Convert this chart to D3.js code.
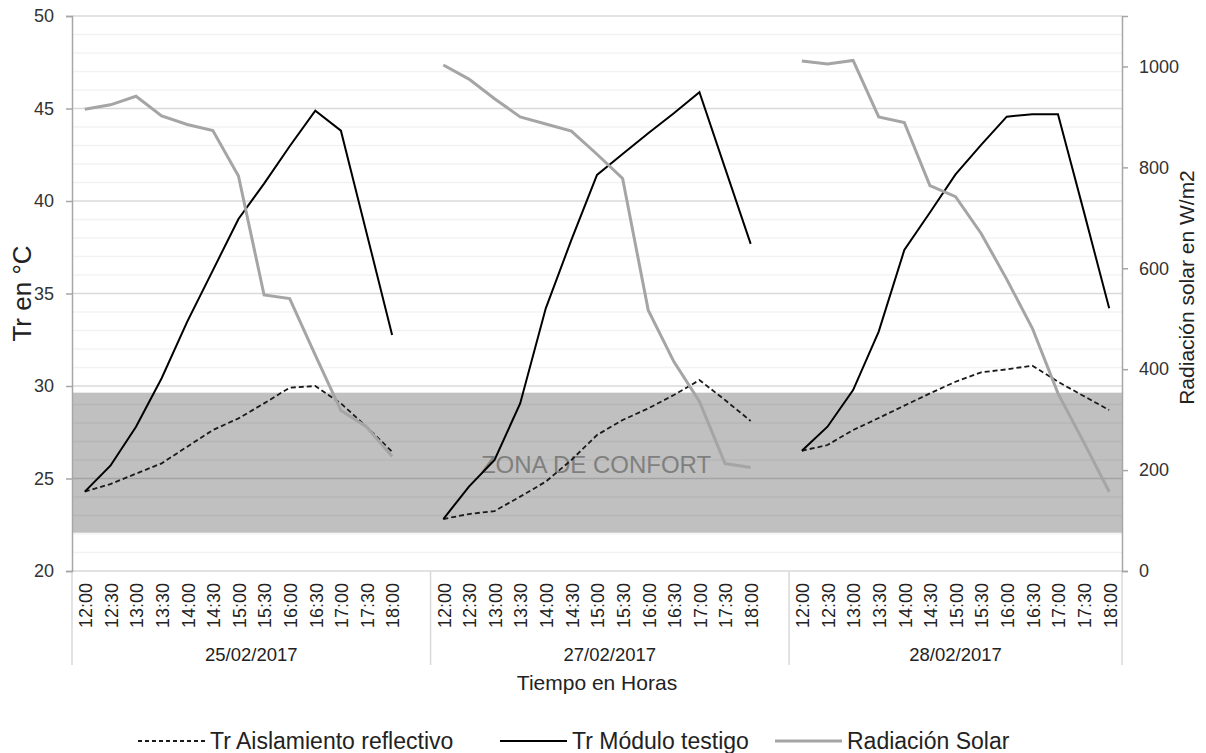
<!DOCTYPE html>
<html>
<head>
<meta charset="utf-8">
<script src="https://cdn.jsdelivr.net/npm/d3@7"></script>
<style>
  html, body { margin: 0; padding: 0; background: #ffffff; }
  svg { display: block; font-family: "Liberation Sans", Arial, sans-serif; }
</style>
</head>
<body>
<svg id="chart" width="1206" height="753"></svg>
<script>
// ---------------- DATA ----------------
const dates = ["25/02/2017", "27/02/2017", "28/02/2017"];
const times = ["12:00", "12:30", "13:00", "13:30", "14:00", "14:30", "15:00", "15:30", "16:00", "16:30", "17:00", "17:30", "18:00"];

const aislamiento25 = [24.29, 24.70, 25.26, 25.82, 26.72, 27.62, 28.25, 29.06, 29.91, 30.00, 29.06, 27.80, 26.45];
const aislamiento27 = [22.81, 23.08, 23.24, 24.02, 24.83, 26.00, 27.35, 28.16, 28.79, 29.51, 30.32, 29.24, 28.11];
const aislamiento28 = [26.50, 26.81, 27.62, 28.27, 28.94, 29.60, 30.23, 30.74, 30.90, 31.10, 30.23, 29.46, 28.70];

const testigo25 = [24.29, 25.69, 27.80, 30.42, 33.48, 36.25, 39.03, 40.94, 42.96, 44.88, 43.80, 38.29, 32.76];
const testigo27 = [22.81, 24.56, 26.00, 29.06, 34.20, 37.90, 41.41, 42.54, 43.66, 44.74, 45.88, 41.78, 37.68];
const testigo28 = [26.50, 27.80, 29.78, 32.94, 37.35, 39.38, 41.44, 43.03, 44.56, 44.69, 44.69, 39.48, 34.20];

const radiacion25 = [915, 924, 941, 902, 885, 873, 783, 547, 540, 428, 318, 286, 227];
const radiacion27 = [1003, 975, 936, 900, 886, 872, 826, 778, 517, 415, 336, 213, 205];
const radiacion28 = [1011, 1005, 1012, 900, 889, 764, 742, 669, 578, 481, 352, 256, 157];

const leftTicks = [20, 25, 30, 35, 40, 45, 50];
const rightTicks = [0, 200, 400, 600, 800, 1000];
const confortRange = [22.07, 29.64];

const seriesNames = ["Tr Aislamiento reflectivo", "Tr Módulo testigo", "Radiación Solar"];
const confortLabel = "ZONA DE CONFORT";
const yTitleLeft = "Tr en °C";
const yTitleRight = "Radiación solar en W/m2";
const xTitle = "Tiempo en Horas";

// ---------------- BUILD ----------------
const svg = d3.select("#chart");
const W = 1206, H = 753;
const plot = { left: 72, right: 1122, top: 16, bottom: 571 };

const keys = [];
const groups = [];
dates.forEach((d, g) => {
  const gk = times.map(t => d + " " + t);
  keys.push(...gk);
  const grpKeys = gk.slice();
  if (g < dates.length - 1) { keys.push("gap" + g); grpKeys.push("gap" + g); }
  groups.push({ date: d, keys: grpKeys });
});

const x = d3.scaleBand().domain(keys).range([plot.left, plot.right]).paddingInner(0).paddingOuter(0);
const bw = x.bandwidth();
const cx = k => x(k) + bw / 2;
const yL = d3.scaleLinear().domain([20, 50]).range([plot.bottom, plot.top]);
const yR = d3.scaleLinear().domain([0, 1100]).range([plot.bottom, plot.top]);

function buildSeries(arrs) {
  const out = [];
  keys.forEach(k => {
    if (k.startsWith("gap")) { out.push({ k, v: null }); return; }
    const [d, t] = k.split(" ");
    const g = dates.indexOf(d), i = times.indexOf(t);
    out.push({ k, v: arrs[g][i] });
  });
  return out;
}
const sAisl = buildSeries([aislamiento25, aislamiento27, aislamiento28]);
const sTest = buildSeries([testigo25, testigo27, testigo28]);
const sRad = buildSeries([radiacion25, radiacion27, radiacion28]);

svg.append("rect").attr("width", W).attr("height", H).attr("fill", "#ffffff");

// comfort zone
svg.append("rect")
  .attr("x", plot.left).attr("width", plot.right - plot.left)
  .attr("y", yL(confortRange[1])).attr("height", yL(confortRange[0]) - yL(confortRange[1]))
  .attr("fill", "#c0c0c0");

// gridlines
const minor = d3.range(21, 50, 1).filter(v => v % 5 !== 0);
svg.append("g").selectAll("line").data(minor).join("line")
  .attr("x1", plot.left).attr("x2", plot.right)
  .attr("y1", d => yL(d)).attr("y2", d => yL(d))
  .attr("stroke", "#000").attr("stroke-opacity", 0.05).attr("stroke-width", 1.5);
svg.append("g").selectAll("line").data(leftTicks.filter(v => v > 20)).join("line")
  .attr("x1", plot.left).attr("x2", plot.right)
  .attr("y1", d => yL(d)).attr("y2", d => yL(d))
  .attr("stroke", "#000").attr("stroke-opacity", 0.15).attr("stroke-width", 1.5);

// comfort label
svg.append("text")
  .attr("x", (plot.left + plot.right) / 2 - 1).attr("y", yL((confortRange[0] + confortRange[1]) / 2) + 10)
  .attr("text-anchor", "middle").attr("font-size", 24).attr("fill", "#7f7f7f")
  .text(confortLabel);

// category axis line + dividers
svg.append("line").attr("x1", plot.left).attr("x2", plot.right)
  .attr("y1", plot.bottom).attr("y2", plot.bottom)
  .attr("stroke", "#d9d9d9").attr("stroke-width", 1.5);
const dividerX = [plot.left];
groups.forEach(gr => { const last = gr.keys[gr.keys.length - 1]; dividerX.push(x(last) + bw); });
svg.append("g").selectAll("line").data(dividerX).join("line")
  .attr("x1", d => d).attr("x2", d => d)
  .attr("y1", plot.bottom).attr("y2", 665)
  .attr("stroke", "#d9d9d9").attr("stroke-width", 1.5);

// left axis
const gl = svg.append("g").attr("transform", `translate(${plot.left},0)`)
  .call(d3.axisLeft(yL).tickValues(leftTicks).tickSize(6).tickPadding(12).tickFormat(d3.format("d")));
gl.select(".domain").attr("stroke", "#a6a6a6").attr("stroke-width", 1.5);
gl.selectAll(".tick line").attr("stroke", "#a6a6a6").attr("stroke-width", 1.5);
gl.selectAll(".tick text").attr("font-size", 18).attr("fill", "#333").attr("font-family", "Liberation Sans, Arial, sans-serif");

// right axis
const gr = svg.append("g").attr("transform", `translate(${plot.right},0)`)
  .call(d3.axisRight(yR).tickValues(rightTicks).tickSize(6).tickPadding(11).tickFormat(d3.format("d")));
gr.select(".domain").attr("stroke", "#a6a6a6").attr("stroke-width", 1.5);
gr.selectAll(".tick line").attr("stroke", "#a6a6a6").attr("stroke-width", 1.5);
gr.selectAll(".tick text").attr("font-size", 18).attr("fill", "#333").attr("font-family", "Liberation Sans, Arial, sans-serif");

// time labels
svg.append("g").selectAll("text").data(keys.filter(k => !k.startsWith("gap"))).join("text")
  .attr("transform", k => `translate(${cx(k) + 1},583) rotate(-90)`)
  .attr("text-anchor", "end").attr("dy", "0.35em")
  .attr("font-size", 18).attr("fill", "#222")
  .text(k => k.split(" ")[1]);

// date labels
svg.append("g").selectAll("text").data(groups).join("text")
  .attr("x", (gd, i) => (dividerX[i] + dividerX[i + 1]) / 2)
  .attr("y", 661).attr("text-anchor", "middle")
  .attr("font-size", 18.5).attr("fill", "#222")
  .text(gd => gd.date);

// axis titles
svg.append("text").attr("x", (plot.left + plot.right) / 2).attr("y", 690)
  .attr("text-anchor", "middle").attr("font-size", 21).attr("fill", "#222").text(xTitle);
svg.append("text").attr("transform", `translate(31,${(plot.top + plot.bottom) / 2}) rotate(-90)`)
  .attr("text-anchor", "middle").attr("font-size", 26).attr("fill", "#222").text(yTitleLeft);
svg.append("text").attr("transform", `translate(1194,${(plot.top + plot.bottom) / 2 - 6}) rotate(-90)`)
  .attr("text-anchor", "middle").attr("font-size", 21).attr("fill", "#222").text(yTitleRight);

// lines
const lineL = d3.line().defined(d => d.v != null).x(d => cx(d.k)).y(d => yL(d.v));
const lineR = d3.line().defined(d => d.v != null).x(d => cx(d.k)).y(d => yR(d.v));

svg.append("path").datum(sAisl).attr("d", lineL)
  .attr("fill", "none").attr("stroke", "#1a1a1a").attr("stroke-width", 1.8)
  .attr("stroke-dasharray", "5,3");
svg.append("path").datum(sTest).attr("d", lineL)
  .attr("fill", "none").attr("stroke", "#000").attr("stroke-width", 2);
svg.append("path").datum(sRad).attr("d", lineR)
  .attr("fill", "none").attr("stroke", "#a5a5a5").attr("stroke-width", 3);

// legend
const legendStyles = [
  { stroke: "#1a1a1a", width: 1.8, dash: "4,3" },
  { stroke: "#000", width: 2, dash: null },
  { stroke: "#a5a5a5", width: 3, dash: null }
];
const legendX = [138, 500, 775];
const lg = svg.append("g");
seriesNames.forEach((name, i) => {
  const g = lg.append("g").attr("transform", `translate(${legendX[i]},0)`);
  g.append("line").attr("x1", 0).attr("x2", 67).attr("y1", 741).attr("y2", 741)
    .attr("stroke", legendStyles[i].stroke).attr("stroke-width", legendStyles[i].width)
    .attr("stroke-dasharray", legendStyles[i].dash);
  g.append("text").attr("x", 72).attr("y", 749).attr("font-size", 23).attr("fill", "#222").text(name);
});
</script>
</body>
</html>
